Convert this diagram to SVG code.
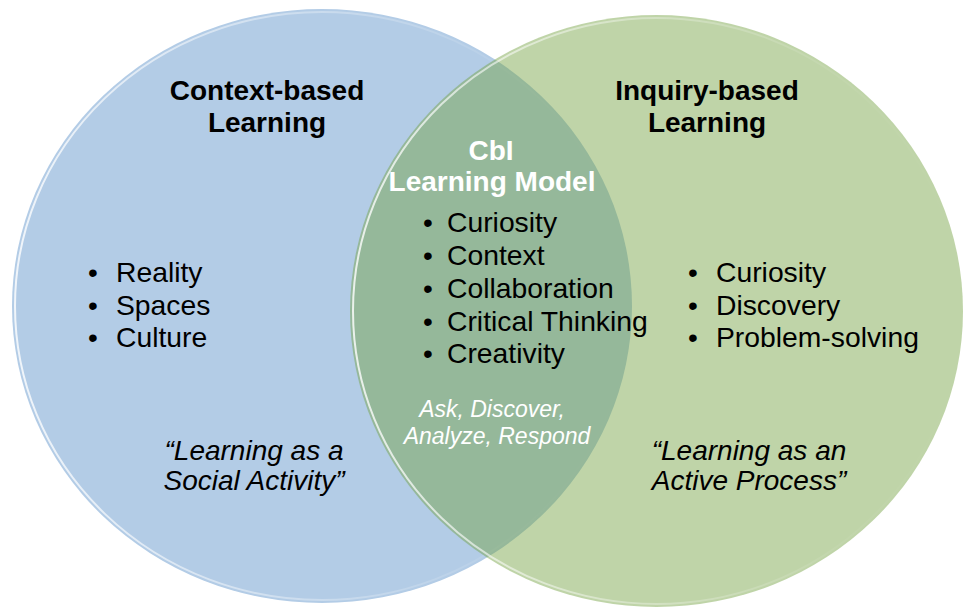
<svg xmlns="http://www.w3.org/2000/svg" width="966" height="607" viewBox="0 0 966 607">
  <style>
    text { font-family: "Liberation Sans", Arial, Helvetica, sans-serif; }
    .title { font-size: 28px; font-weight: bold; fill: #000; text-anchor: middle; }
    .title-w { font-size: 28px; font-weight: bold; fill: #fff; text-anchor: middle; }
    .item { font-size: 28.3px; fill: #000; }
    .dot { font-size: 28px; fill: #000; text-anchor: middle; }
    .quote { font-size: 28px; font-style: italic; fill: #000; text-anchor: middle; }
    .steps { font-size: 23px; font-style: italic; fill: #fff; text-anchor: middle; }
  </style>
  <defs>
    <!-- soft glossy rim, bright on the left, fading out to the right -->
    <linearGradient id="rimFade" x1="0" y1="0" x2="1" y2="0">
      <stop offset="0" stop-color="#fff" stop-opacity="0.8"/>
      <stop offset="0.45" stop-color="#fff" stop-opacity="0.35"/>
      <stop offset="0.8" stop-color="#fff" stop-opacity="0.05"/>
      <stop offset="1" stop-color="#fff" stop-opacity="0"/>
    </linearGradient>
  </defs>

  <!-- Context-based Learning set -->
  <g id="context-based">
    <ellipse cx="322" cy="306" rx="310" ry="297" fill="#b3cce6"/>
    <ellipse cx="322" cy="306" rx="307" ry="294" fill="none" stroke="url(#rimFade)" stroke-width="2"/>
    <text class="title" x="267" y="100">Context-based</text>
    <text class="title" x="267" y="132">Learning</text>
    <text class="dot" x="93" y="282">•</text>
    <text class="dot" x="93" y="315">•</text>
    <text class="dot" x="93" y="347">•</text>
    <text class="item" x="116" y="282">Reality</text>
    <text class="item" x="116" y="315">Spaces</text>
    <text class="item" x="116" y="347">Culture</text>
    <text class="quote" x="254" y="460">“Learning as a</text>
    <text class="quote" x="254" y="490">Social Activity”</text>
  </g>

  <!-- Inquiry-based Learning set (translucent, so the overlap darkens) -->
  <g id="inquiry-based">
    <ellipse cx="656.5" cy="311" rx="306.5" ry="296" fill="#71a03e" fill-opacity="0.45"/>
    <ellipse cx="656.5" cy="311" rx="303.5" ry="293" fill="none" stroke="url(#rimFade)" stroke-width="2"/>
    <text class="title" x="707" y="100">Inquiry-based</text>
    <text class="title" x="707" y="132">Learning</text>
    <text class="dot" x="693" y="282">•</text>
    <text class="dot" x="693" y="315">•</text>
    <text class="dot" x="693" y="347">•</text>
    <text class="item" x="716" y="282">Curiosity</text>
    <text class="item" x="716" y="315">Discovery</text>
    <text class="item" x="716" y="347">Problem-solving</text>
    <text class="quote" x="749" y="460">“Learning as an</text>
    <text class="quote" x="749" y="490">Active Process”</text>
  </g>

  <!-- CbI Learning Model: the intersection -->
  <g id="cbi-model">
    <text class="title-w" x="491" y="160">CbI</text>
    <text class="title-w" x="492" y="191">Learning Model</text>
    <text class="dot" x="428" y="232">•</text>
    <text class="dot" x="428" y="265">•</text>
    <text class="dot" x="428" y="298">•</text>
    <text class="dot" x="428" y="331">•</text>
    <text class="dot" x="428" y="363">•</text>
    <text class="item" x="447" y="232">Curiosity</text>
    <text class="item" x="447" y="265">Context</text>
    <text class="item" x="447" y="298">Collaboration</text>
    <text class="item" x="447" y="331">Critical Thinking</text>
    <text class="item" x="447" y="363">Creativity</text>
    <text class="steps" x="492" y="417">Ask, Discover,</text>
    <text class="steps" x="497" y="444">Analyze, Respond</text>
  </g>
</svg>
